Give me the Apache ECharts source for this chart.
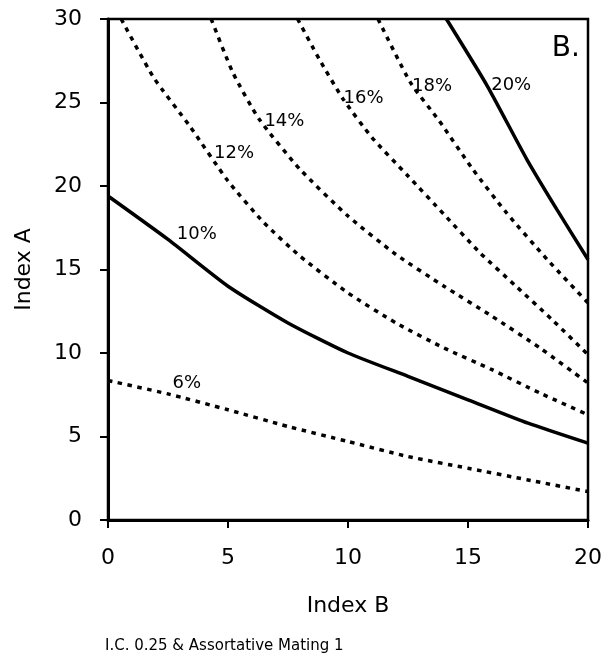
<!DOCTYPE html>
<html>
<head>
<meta charset="utf-8">
<script src="https://cdn.jsdelivr.net/npm/echarts@6/dist/echarts.min.js"></script>
<style>
html,body{margin:0;padding:0;background:#fff;}
#chart{width:608px;height:669px;}
</style>
</head>
<body>
<div id="chart"></div>
<script>
// Iso-response curves: [Index B, Index A]
var curve6  = [[0,8.35],[2.5,7.55],[5,6.6],[7.5,5.6],[10,4.7],[12.5,3.8],[15,3.1],[17.5,2.4],[20,1.7]];
var curve10 = [[0,19.4],[2.5,16.8],[5,14.0],[7.5,11.8],[10,10.0],[12.5,8.6],[15,7.2],[17.5,5.8],[20,4.6]];
var curve12 = [[0.55,30],[1.9,26.5],[3.4,23.6],[5,20.3],[6.5,17.8],[8,15.8],[10,13.6],[12,11.8],[14,10.3],[16,9.0],[18,7.6],[20,6.3]];
var curve14 = [[4.3,30],[5.2,26.8],[6.3,24.0],[8,21.0],[10,18.2],[12,15.9],[14,14.0],[16,12.2],[18,10.3],[20,8.2]];
var curve16 = [[7.9,30],[8.8,27.6],[9.8,25.2],[11,22.9],[12.5,20.6],[14,18.3],[15.5,16.0],[17,14.0],[18.5,12.0],[20,9.9]];
var curve18 = [[11.25,30],[12.6,26.2],[13.8,23.9],[15.2,21.0],[16.6,18.4],[18.3,15.6],[20,13.0]];
var curve20 = [[14.1,30],[15.8,26.0],[17.45,21.6],[18.7,18.6],[20,15.6]];

var curveNames = ['6%','10%','12%','14%','16%','18%','20%'];
var curveSolid = [false,true,false,false,false,false,true];
var curves = [curve6,curve10,curve12,curve14,curve16,curve18,curve20];

// label anchor points in data units [Index B, Index A]
var labelPoints = [[3.28,8.2],[3.7,17.1],[5.25,21.95],[7.35,23.9],[10.65,25.25],[13.5,25.95],[16.8,26.05]];

var xTicks = [0,5,10,15,20];
var yTicks = [0,5,10,15,20,25,30];
var panelTag = 'B.';
var footnote = 'I.C. 0.25 & Assortative Mating 1';

var FONT = '"DejaVu Sans", "Liberation Sans", Arial, sans-serif';

var series = curves.map(function(c, i){
  return {
    type:'line', name:curveNames[i], data:c, showSymbol:false, smooth:0.2,
    lineStyle:{color:'#000', width:3.5, type: curveSolid[i] ? 'solid' : [4.5,5.5]},
    z: 3, silent:true
  };
});
series.push({
  type:'scatter', symbolSize:0, silent:true, z:5,
  itemStyle:{opacity:1},
  data: labelPoints.map(function(p,i){ return {value:p, name:curveNames[i]}; }),
  label:{show:true, position:'inside', formatter:'{b}', color:'#000', fontSize:18, fontFamily:FONT, textBorderWidth:0}
});
series.push({
  type:'scatter', symbolSize:0, silent:true, z:5,
  itemStyle:{opacity:1},
  data:[{value:[19.08,28.2], name:panelTag}],
  label:{show:true, position:'inside', formatter:'{b}', color:'#000', fontSize:28, fontFamily:FONT, textBorderWidth:0}
});

var chart = echarts.init(document.getElementById('chart'));
chart.setOption({
  animation:false,
  backgroundColor:'#fff',
  grid:{left:108, right:20, top:19, bottom:149, show:true, borderColor:'#000', borderWidth:2.5, backgroundColor:'transparent'},
  xAxis:{
    type:'value', min:0, max:20, interval:5,
    name:'Index B', nameLocation:'middle', nameGap:75,
    nameTextStyle:{fontSize:22, color:'#000', fontFamily:FONT},
    axisLine:{show:true, onZero:false, lineStyle:{color:'#000', width:3}},
    axisTick:{show:true, length:8, lineStyle:{color:'#000', width:2}},
    axisLabel:{fontSize:22, color:'#000', margin:27, fontFamily:FONT,
      formatter:function(v){ return xTicks.indexOf(v) >= 0 ? String(v) : ''; }},
    splitLine:{show:false}
  },
  yAxis:{
    type:'value', min:0, max:30, interval:5,
    name:'Index A', nameLocation:'middle', nameGap:73,
    nameTextStyle:{fontSize:22, color:'#000', fontFamily:FONT},
    axisLine:{show:true, onZero:false, lineStyle:{color:'#000', width:3}},
    axisTick:{show:true, length:8, lineStyle:{color:'#000', width:2}},
    axisLabel:{fontSize:22, color:'#000', margin:26, fontFamily:FONT,
      formatter:function(v){ return yTicks.indexOf(v) >= 0 ? String(v) : ''; }},
    splitLine:{show:false}
  },
  graphic:[{
    type:'text', left:105, top:639,
    style:{text:footnote, fontSize:15, fill:'#000', fontFamily:FONT}
  }],
  series:series
});
</script>
</body>
</html>
